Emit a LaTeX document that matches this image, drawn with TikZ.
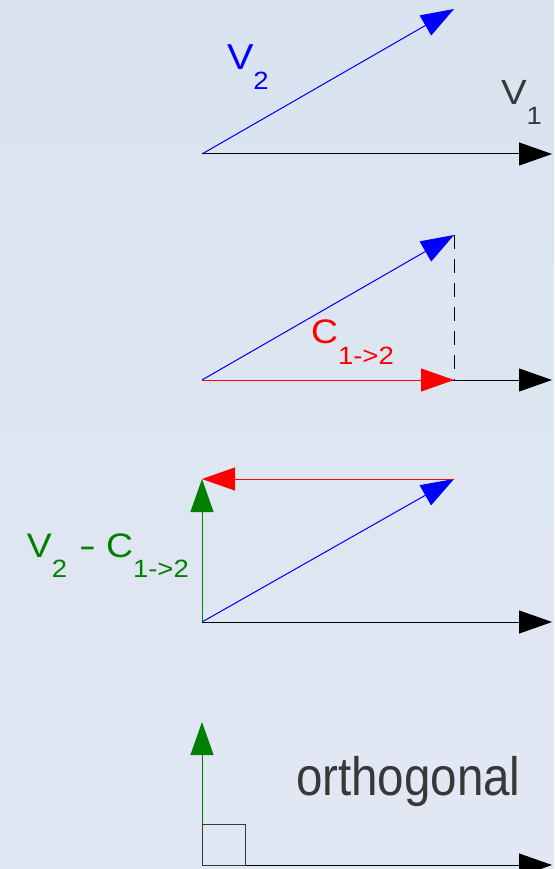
\documentclass[tikz,border=0pt]{standalone}
\usepackage{fontspec}
\setmainfont{Liberation Sans}
\newfontfamily\orthfont[FakeStretch=0.88]{Liberation Sans}
\newfontfamily\labfont[FakeStretch=1.1]{Liberation Sans}
\usetikzlibrary{arrows.meta}
\definecolor{bgtop}{HTML}{D9E3F0}
\definecolor{bgbot}{HTML}{E2E8F3}
\definecolor{vblue}{HTML}{0000FF}
\definecolor{vred}{HTML}{FF0000}
\definecolor{vgreen}{HTML}{008000}
\definecolor{txtgray}{HTML}{383838}
\newcommand{\subsz}{\labfont\fontsize{25}{25}\selectfont}
\newcommand{\vlab}[3]{{\labfont\fontsize{#1}{#1}\selectfont #2}\raisebox{-20pt}{\subsz #3}}
\tikzset{
  vec/.style={line width=1pt, -{Triangle[length=33pt,width=23pt]}},
  axisvec/.style={vec, draw=black},
  bluevec/.style={vec, draw=vblue, fill=vblue},
  redvec/.style={vec, draw=vred, fill=vred},
  greenvec/.style={vec, draw=vgreen, fill=vgreen},
  lbl/.style={anchor=base west, inner sep=0pt, outer sep=0pt},
}
\begin{document}
\begin{tikzpicture}[x=1pt,y=-1pt]
\useasboundingbox (0,0) rectangle (554,869);
\clip (0,0) rectangle (554,869);
\shade[top color=bgtop, bottom color=bgbot] (0,0) rectangle (554,869);
% panel 1
\coordinate (O1) at (202,154);
\coordinate (X1) at (552,154);
\coordinate (B1) at (454,9);
\draw[axisvec] (O1) -- (X1);
\draw[bluevec] (O1) -- (B1);
\node[lbl, text=vblue] (lv2) at (227,70) {\vlab{36}{V}{2}};
\node[lbl, text=txtgray] (lv1) at (501,105) {\vlab{35}{V}{1}};
% panel 2
\coordinate (O2) at (202,380);
\coordinate (X2) at (552,380);
\coordinate (B2) at (454,235);
\coordinate (P2) at (454,380);
\draw[axisvec] (O2) -- (X2);
\draw[black, line width=1pt, dash pattern=on 14pt off 10pt] (B2) -- (P2);
\draw[bluevec] (O2) -- (B2);
\draw[redvec] (O2) -- (P2);
\node[lbl, text=vred] (lc) at (311,343) {{\labfont\fontsize{34}{34}\selectfont C}\raisebox{-21pt}{\subsz 1->2}};
% panel 3
\coordinate (O3) at (202,622);
\coordinate (X3) at (552,622);
\coordinate (B3) at (454,479);
\coordinate (G3) at (202,479);
\draw[axisvec] (O3) -- (X3);
\draw[bluevec] (O3) -- (B3);
\draw[redvec] (B3) -- (G3);
\draw[greenvec] (O3) -- (G3);
\node[lbl, text=vgreen] (lg1) at (27,557) {\vlab{34}{V}{2}};
\node[lbl, text=vgreen] (lg2) at (79,557) {{\labfont\fontsize{34}{34}\selectfont\scalebox{1.35}[1]{-}}};
\node[lbl, text=vgreen] (lg3) at (106,557) {\vlab{34}{C}{1->2}};
% panel 4
\coordinate (O4) at (202,865);
\coordinate (X4) at (552,865);
\coordinate (G4) at (202,722);
\draw[axisvec] (O4) -- (X4);
\draw[greenvec] (O4) -- (G4);
\draw[txtgray, line width=1pt] (202,824) rectangle (245,865);
\node[lbl, text=txtgray] (orth) at (296,795) {\orthfont\fontsize{54}{54}\selectfont orthogonal};
\end{tikzpicture}
\end{document}
